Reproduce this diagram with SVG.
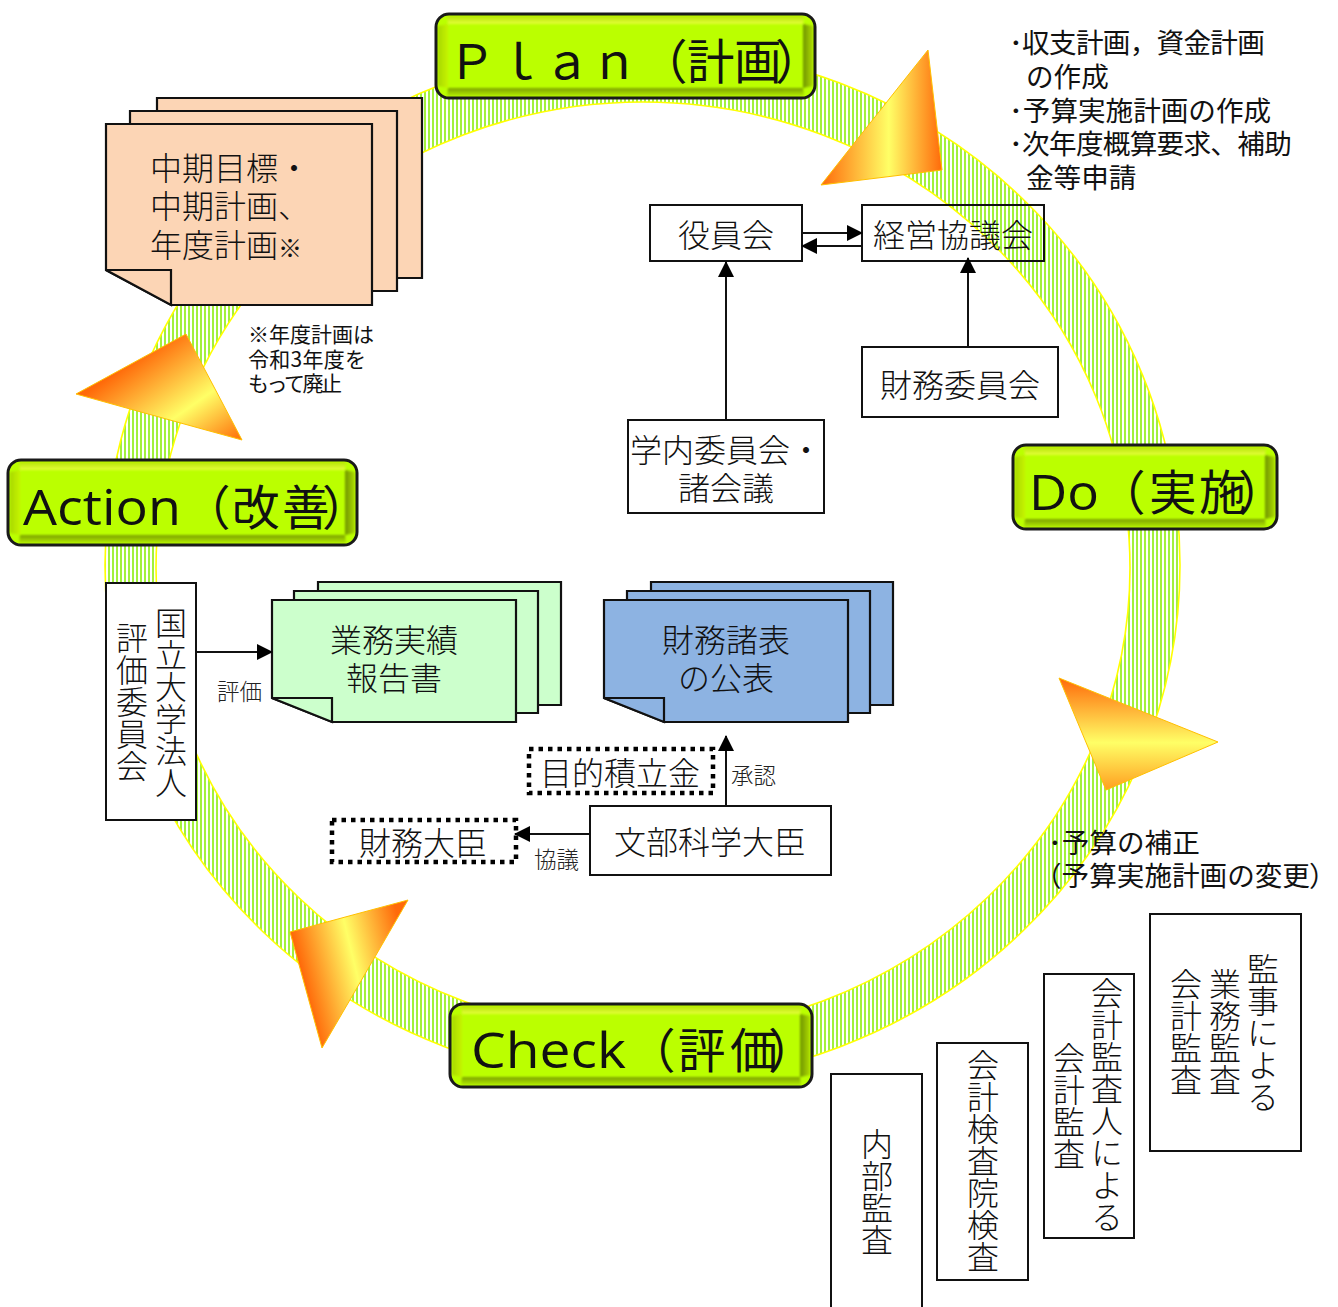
<svg xmlns="http://www.w3.org/2000/svg" width="1338" height="1307" viewBox="0 0 1338 1307">
<style>
text{font-family:"Noto Sans CJK JP","Noto Sans",sans-serif;font-weight:300;fill:#111;font-size:32px}
.c{text-anchor:middle}
.n{font-size:21px;font-weight:400}
.p{font-size:27.6px;font-weight:400}
.t{letter-spacing:-.7px}
.l{font-size:22.5px;fill:#222}
.h{font-size:47.5px;font-weight:400}
.w{font-family:"Open Sans","Liberation Sans",sans-serif;font-size:50px;font-weight:400}
.v{writing-mode:vertical-rl;text-orientation:upright}
.box{fill:#fff;stroke:#111;stroke-width:2}
.open{fill:none;stroke:#111;stroke-width:2}
.dot{fill:#fff;stroke:#000;stroke-width:4.5;stroke-dasharray:4.5 5}
.sheet{stroke:#111;stroke-width:2.2;stroke-linejoin:miter}
.or{fill:#FCD5B5}.gr{fill:#CCFFCC}.bl{fill:#8DB3E2}
.tri{stroke:#FFC000;stroke-width:1}
.btn{fill:#BBFF00}
.edge{fill:none;stroke:#1a1a1a;stroke-width:3}
.bev{filter:url(#soft)}
.bt{fill:url(#bevT)}.bb{fill:url(#bevB)}.bl2{fill:url(#bevL)}.br{fill:url(#bevR)}
.con{stroke:#111;stroke-width:2;fill:none}
</style>
<defs>
<pattern id="st" patternUnits="userSpaceOnUse" width="4" height="4"><rect width="4" height="4" fill="#fff"/><rect width="2" height="4" fill="#A2F03C"/></pattern>
<filter id="soft" x="-5%" y="-20%" width="110%" height="140%"><feGaussianBlur stdDeviation="0.9"/></filter>
<linearGradient id="bevT" x1="0" y1="0" x2="0" y2="1"><stop offset="0" stop-color="#B4E400"/><stop offset="1" stop-color="#E6FF3C"/></linearGradient>
<linearGradient id="bevB" x1="0" y1="0" x2="0" y2="1"><stop offset="0" stop-color="#7B9F00"/><stop offset="1" stop-color="#B2EC00"/></linearGradient>
<linearGradient id="bevL" x1="0" y1="0" x2="1" y2="0"><stop offset="0" stop-color="#A8D800"/><stop offset="1" stop-color="#C6F400"/></linearGradient>
<linearGradient id="bevR" x1="0" y1="0" x2="1" y2="0"><stop offset="0" stop-color="#6F9400"/><stop offset="1" stop-color="#AEDC00"/></linearGradient>
<linearGradient id="g1" gradientUnits="userSpaceOnUse" x1="821" y1="130" x2="942" y2="130"><stop offset="0" stop-color="#FF6A0A"/><stop offset=".56" stop-color="#FFFF66"/><stop offset="1" stop-color="#FF6A0A"/></linearGradient>
<linearGradient id="g2" gradientUnits="userSpaceOnUse" x1="1130" y1="678" x2="1130" y2="800"><stop offset="0" stop-color="#FF6A0A"/><stop offset=".53" stop-color="#FFFF66"/><stop offset="1" stop-color="#FF8A10"/></linearGradient>
<linearGradient id="g3" gradientUnits="userSpaceOnUse" x1="305" y1="985" x2="408" y2="960"><stop offset="0" stop-color="#FF6A0A"/><stop offset=".5" stop-color="#FFFF66"/><stop offset="1" stop-color="#FF6A0A"/></linearGradient>
<linearGradient id="g4" gradientUnits="userSpaceOnUse" x1="155" y1="345" x2="225" y2="445"><stop offset="0" stop-color="#FF6A0A"/><stop offset=".58" stop-color="#FFFF66"/><stop offset="1" stop-color="#FF7A10"/></linearGradient>
<marker id="a" markerUnits="userSpaceOnUse" markerWidth="16" markerHeight="16" refX="15" refY="8" orient="auto"><path d="M0 0L16 8L0 16Z" fill="#000"/></marker>
</defs>

<g id="ring"><path fill="url(#st)" stroke="#FFFF00" stroke-width="1.6" fill-rule="evenodd" d="M105 565a537.5 518 0 1 0 1075 0a537.5 518 0 1 0 -1075 0ZM156 568a487 466 0 1 0 974 0a487 466 0 1 0 -974 0Z"/></g>

<g id="cycle-arrows">
<path class="tri" fill="url(#g1)" d="M928 50L942 170L821 185Z"/>
<path class="tri" fill="url(#g2)" d="M1059 678L1218 742L1106 790Z"/>
<path class="tri" fill="url(#g3)" d="M408 900L322 1048L290 932Z"/>
<path class="tri" fill="url(#g4)" d="M186 334L242 440L76 394Z"/>
</g>

<g id="plan">
<rect class="btn" x="436" y="14" width="379" height="84" rx="13"/>
<g class="bev"><path class="bt" d="M447 16H804L803 24H448Z"/><path class="bb" d="M448 88H803L804 96H447Z"/><path class="bl2" d="M438 26L448 24V88L438 86Z"/><path class="br" d="M803 24L813 26V86L803 88Z"/></g>
<rect class="edge" x="436" y="14" width="379" height="84" rx="13"/>
<text class="h" x="448 495.5 543 590.5 640 687 734 775" y="79">Ｐｌａｎ（計画）</text>
</g>
<g id="do">
<rect class="btn" x="1013" y="445" width="264" height="84" rx="13"/>
<g class="bev"><path class="bt" d="M1024 447H1266L1265 455H1025Z"/><path class="bb" d="M1025 519H1265L1266 527H1024Z"/><path class="bl2" d="M1015 457L1025 455V519L1015 517Z"/><path class="br" d="M1265 455L1275 457V517L1265 519Z"/></g>
<rect class="edge" x="1013" y="445" width="264" height="84" rx="13"/>
<text class="w" x="1029" y="510" textLength="70" lengthAdjust="spacingAndGlyphs">Do</text>
<text class="h" x="1098 1149 1199 1238" y="510">（実施）</text>
</g>
<g id="action">
<rect class="btn" x="8" y="460" width="349" height="85" rx="13"/>
<g class="bev"><path class="bt" d="M19 462H346L345 470H20Z"/><path class="bb" d="M20 535H345L346 543H19Z"/><path class="bl2" d="M10 472L20 470V535L10 533Z"/><path class="br" d="M345 470L355 472V533L345 535Z"/></g>
<rect class="edge" x="8" y="460" width="349" height="85" rx="13"/>
<text class="w" x="23" y="525" textLength="158" lengthAdjust="spacingAndGlyphs">Action</text>
<text class="h" x="183 232 282 322" y="525">（改善）</text>
</g>
<g id="check">
<rect class="btn" x="450" y="1004" width="362" height="83" rx="13"/>
<g class="bev"><path class="bt" d="M461 1006H801L800 1014H462Z"/><path class="bb" d="M462 1077H800L801 1085H461Z"/><path class="bl2" d="M452 1016L462 1014V1077L452 1075Z"/><path class="br" d="M800 1014L810 1016V1075L800 1077Z"/></g>
<rect class="edge" x="450" y="1004" width="362" height="83" rx="13"/>
<text class="w" x="471" y="1068" textLength="155" lengthAdjust="spacingAndGlyphs">Check</text>
<text class="h" x="628 678 730 768" y="1068">（評価）</text>
</g>

<g id="plan-documents">
<path class="sheet or" d="M157 111V98H422V278H397"/>
<path class="sheet or" d="M130 124V111H397V291H372"/>
<path class="sheet or" d="M106 124H372V305H171L106 270Z"/>
<path class="sheet or" d="M106 270H171V305Z"/>
<text x="150" y="180">中期目標・</text>
<text x="150" y="218">中期計画、</text>
<text x="150" y="257">年度計画<tspan font-size="24">※</tspan></text>
</g>
<g id="plan-note">
<text class="n" x="248" y="342">※年度計画は</text>
<text class="n" x="248" y="367" textLength="118">令和3年度を</text>
<text class="n" x="248" y="391" textLength="94">もって廃止</text>
</g>
<g id="plan-bullets">
<text class="p t" x="1009" y="53">･収支計画，資金計画</text>
<text class="p" x="1026" y="87">の作成</text>
<text class="p" x="1009" y="121">･予算実施計画の作成</text>
<text class="p t" x="1009" y="154">･次年度概算要求、補助</text>
<text class="p" x="1026" y="188">金等申請</text>
</g>
<g id="yakuin"><rect class="box" x="650" y="205" width="152" height="56"/><text class="c" x="726" y="247">役員会</text></g>
<g id="keiei"><rect class="open" x="862" y="205" width="182" height="56"/><text class="c" x="953" y="247">経営協議会</text></g>
<g id="zaimu-iin"><rect class="box" x="862" y="347" width="196" height="70"/><text class="c" x="960" y="397">財務委員会</text></g>
<g id="gakunai"><rect class="box" x="628" y="420" width="196" height="93"/><text x="630" y="462">学内委員会・</text><text class="c" x="726" y="500">諸会議</text></g>
<g id="kokuritsu"><rect class="box" x="106" y="583" width="90" height="237"/>
<text class="v" x="171" y="607">国立大学法人</text><text class="v" x="132" y="622">評価委員会</text></g>
<g id="gyomu"><path class="sheet gr" d="M318 591V582H561V705H538"/><path class="sheet gr" d="M294 600V591H538V713H516"/>
<path class="sheet gr" d="M272 600H516V722H332L272 698Z"/><path class="sheet gr" d="M272 698H332V722Z"/>
<text class="c" x="394" y="652">業務実績</text><text class="c" x="394" y="690">報告書</text></g>
<g id="zaimu-shohyo"><path class="sheet bl" d="M651 591V582H893V705H870"/><path class="sheet bl" d="M627 600V591H870V713H848"/>
<path class="sheet bl" d="M604 600H848V722H664L604 698Z"/><path class="sheet bl" d="M604 698H664V722Z"/>
<text class="c" x="726" y="652">財務諸表</text><text class="c" x="726" y="690">の公表</text></g>
<g id="mokuteki"><rect class="dot" x="529" y="749" width="184" height="44"/><text class="c" x="620" y="785">目的積立金</text></g>
<g id="zaimu-daijin"><rect class="dot" x="332" y="820" width="184" height="42"/><text class="c" x="423" y="855">財務大臣</text></g>
<g id="monbu"><rect class="box" x="590" y="806" width="241" height="69"/><text class="c" x="710" y="854">文部科学大臣</text></g>
<g id="hosei">
<text class="p" x="1048" y="853">･予算の補正</text>
<text class="p" x="1034" y="886">（予算実施計画の変更<tspan x="1309">）</tspan></text>
</g>
<g id="kanji"><rect class="box" x="1150" y="914" width="151" height="237"/>
<text class="v" x="1263" y="953">監事による</text><text class="v" x="1225" y="968">業務監査</text><text class="v" x="1186" y="968">会計監査</text></g>
<g id="kansanin"><rect class="box" x="1044" y="974" width="90" height="264"/>
<text class="v" x="1107" y="977">会計監査人による</text><text class="v" x="1069" y="1042">会計監査</text></g>
<g id="kensain"><rect class="box" x="937" y="1043" width="91" height="237"/><text class="v" x="983" y="1049">会計検査院検査</text></g>
<g id="naibu"><rect class="box" x="831" y="1074" width="91" height="250"/><text class="v" x="877" y="1128">内部監査</text></g>

<g id="connectors">
<path class="con" marker-end="url(#a)" d="M802 233H862"/>
<path class="con" marker-end="url(#a)" d="M862 246H802"/>
<path class="con" marker-end="url(#a)" d="M726 421V262"/>
<path class="con" marker-end="url(#a)" d="M968 347V258"/>
<path class="con" marker-end="url(#a)" d="M196 652H272"/>
<path class="con" marker-end="url(#a)" d="M726 806V736"/>
<path class="con" marker-end="url(#a)" d="M590 834H515"/>
</g>
<g id="connector-labels">
<text class="l" x="217" y="700">評価</text>
<text class="l" x="731" y="784">承認</text>
<text class="l" x="534" y="868">協議</text>
</g>
</svg>
